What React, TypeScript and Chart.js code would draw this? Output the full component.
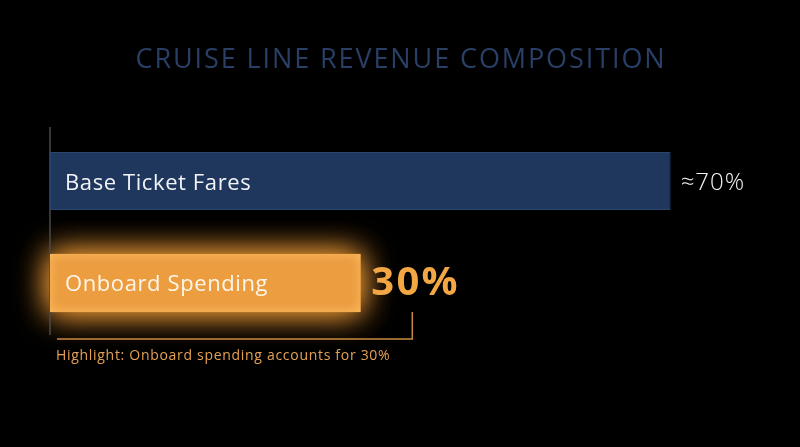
import { useEffect, useRef } from "react";
import { Chart, registerables, Plugin } from "chart.js";

Chart.register(...registerables);

const categories = ["Base Ticket Fares", "Onboard Spending"];
const shares = [70, 30];
const valueLabels = ["≈70%", "30%"];
const titleText = "CRUISE LINE REVENUE COMPOSITION";
const noteText = "Highlight: Onboard spending accounts for 30%";

const FONT = "'Open Sans', 'Noto Sans', sans-serif";
const ORANGE = "#eb9d40";

// draw text with letter spacing (Montserrat-like width)
function spaced(ctx: CanvasRenderingContext2D, text: string, x: number, y: number, sp: number) {
  (ctx as any).letterSpacing = `${sp}px`;
  ctx.fillText(text, x, y);
  (ctx as any).letterSpacing = "0px";
}

// glow under the highlighted bar, inner glow, axis line, labels, bracket
const decorPlugin: Plugin<"bar"> = {
  id: "decor",
  beforeDatasetsDraw(chart) {
    const { ctx, chartArea } = chart;
    const bar = chart.getDatasetMeta(0).data[1] as any;
    const h = bar.height;
    const left = bar.base;
    ctx.save();
    ctx.shadowColor = "rgba(245,158,55,0.9)";
    ctx.shadowBlur = 32;
    ctx.fillStyle = ORANGE;
    ctx.fillRect(left, bar.y - h / 2, bar.x - left, h);
    ctx.fillRect(left, bar.y - h / 2, bar.x - left, h);
    ctx.restore();

    // axis line
    ctx.save();
    ctx.strokeStyle = "#4a4a4a";
    ctx.lineWidth = 1.5;
    ctx.beginPath();
    ctx.moveTo(chartArea.left, chartArea.top - 3);
    ctx.lineTo(chartArea.left, chartArea.bottom + 1);
    ctx.stroke();
    ctx.restore();
  },
  afterDatasetsDraw(chart) {
    const { ctx, chartArea } = chart;
    const bars = chart.getDatasetMeta(0).data as any[];

    // title
    ctx.save();
    ctx.fillStyle = "#2a3f66";
    ctx.font = `400 27px ${FONT}`;
    ctx.textAlign = "center";
    ctx.textBaseline = "middle";
    spaced(ctx, titleText, chart.width / 2 + 1, 60, 1.9);
    ctx.restore();

    // inner glow on highlight bar
    const b = bars[1];
    const h = b.height;
    const x0 = b.base;
    const y0 = b.y - h / 2;
    const w = b.x - x0;
    ctx.save();
    ctx.beginPath();
    ctx.rect(x0, y0, w, h);
    ctx.clip();
    ctx.shadowColor = "rgba(255,190,100,0.95)";
    ctx.shadowBlur = 12;
    ctx.lineWidth = 20;
    ctx.strokeStyle = "rgba(252,182,90,1)";
    ctx.strokeRect(x0 - 10, y0 - 10, w + 20, h + 20);
    ctx.restore();

    // labels inside bars
    ctx.save();
    ctx.textBaseline = "middle";
    ctx.font = `400 22px ${FONT}`;
    bars.forEach((bar, i) => {
      ctx.fillStyle = i === 1 ? "#fff6ea" : "#f2f4f8";
      spaced(ctx, categories[i], chartArea.left + 15, bar.y + (i === 0 ? 2.5 : 1.5), 0.6);
    });

    // value labels
    ctx.fillStyle = "#f4f4f4";
    ctx.font = `300 24px ${FONT}`;
    spaced(ctx, valueLabels[0], bars[0].x + 10, bars[0].y + 2, 1);
    ctx.fillStyle = "#f2a744";
    ctx.font = `700 40px ${FONT}`;
    spaced(ctx, valueLabels[1], bars[1].x + 11, bars[1].y + 1, 2.2);

    // bracket
    const bx = bars[1].x + 52;
    const by = chartArea.bottom + 5;
    ctx.strokeStyle = "#c98a40";
    ctx.lineWidth = 1.5;
    ctx.beginPath();
    ctx.moveTo(chartArea.left + 7, by);
    ctx.lineTo(bx, by);
    ctx.lineTo(bx, bars[1].y + bars[1].height / 2);
    ctx.stroke();

    // note
    ctx.fillStyle = "#e6a253";
    ctx.font = `400 14px ${FONT}`;
    ctx.textBaseline = "alphabetic";
    spaced(ctx, noteText, chartArea.left + 6, by + 21, 0.7);
    ctx.restore();
  },
};

export default function App() {
  const canvasRef = useRef<HTMLCanvasElement>(null);
  const chartRef = useRef<Chart | null>(null);

  useEffect(() => {
    if (!canvasRef.current) return;
    if (chartRef.current) {
      chartRef.current.destroy();
      chartRef.current = null;
    }
    const ctx = canvasRef.current.getContext("2d");
    if (!ctx) return;

    chartRef.current = new Chart(ctx, {
      type: "bar",
      data: {
        labels: categories,
        datasets: [
          {
            data: shares,
            base: -10,
            backgroundColor: ["#1f375c", ORANGE],
            borderColor: ["#2a4670", ORANGE],
            borderWidth: 1,
            borderSkipped: false,
            barPercentage: 0.57,
            categoryPercentage: 1,
          } as any,
        ],
      },
      options: {
        indexAxis: "y",
        animation: false,
        responsive: false,
        maintainAspectRatio: false,
        layout: {
          padding: { top: 130, left: 50, right: 13, bottom: 113 },
        },
        plugins: {
          legend: { display: false },
          tooltip: { enabled: false },
          title: { display: false },
        },
        scales: {
          x: { display: false, min: -10, max: 85 },
          y: { display: false },
        },
      },
      plugins: [decorPlugin],
    });

    return () => {
      if (chartRef.current) {
        chartRef.current.destroy();
        chartRef.current = null;
      }
    };
  }, []);

  return (
    <div style={{ position: "fixed", inset: 0, background: "#000" }}>
      <canvas ref={canvasRef} width={800} height={447} style={{ display: "block" }}></canvas>
    </div>
  );
}
